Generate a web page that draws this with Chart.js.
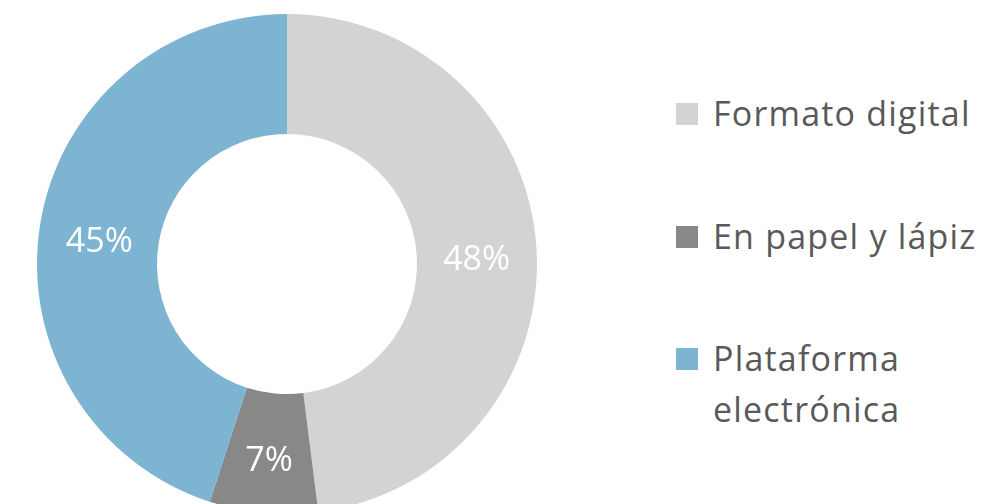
<!DOCTYPE html>
<html>
<head>
<meta charset="utf-8">
<script src="https://cdn.jsdelivr.net/npm/chart.js@4"></script>
<style>
    html, body { margin: 0; padding: 0; background: #fff; overflow: hidden; }
    body { width: 1003px; height: 504px; position: relative; font-family: "Open Sans", sans-serif; }
    #wrap { position: absolute; left: 0; top: 0; width: 574px; height: 528px; }
    #legend { position: absolute; left: 676px; top: 88px; list-style: none; margin: 0; padding: 0; }
    #legend li { position: relative; padding-left: 37px; color: #595959; font-size: 34px; letter-spacing: 1.2px; line-height: 51px; margin-bottom: 71.5px; white-space: nowrap; }
    #legend li span { position: absolute; left: 0; top: 15px; width: 22px; height: 22px; }
</style>
</head>
<body>
<div id="wrap"><canvas id="chart" width="574" height="528"></canvas></div>
<ul id="legend"></ul>
<script>
    // Chart data
    const labels = ['Formato digital', 'En papel y lápiz', 'Plataforma electrónica'];
    const legendLines = [['Formato digital'], ['En papel y lápiz'], ['Plataforma', 'electrónica']];
    const values = [48, 7, 45];
    const colors = ['#d3d3d3', '#888888', '#7cb4d2'];

    // Percentage labels drawn in the middle of each slice
    const sliceLabels = {
        id: 'sliceLabels',
        afterDatasetsDraw(chart) {
            const ctx = chart.ctx;
            const meta = chart.getDatasetMeta(0);
            ctx.save();
            ctx.font = '34px "Open Sans", sans-serif';
            ctx.fillStyle = '#ffffff';
            ctx.textAlign = 'center';
            ctx.textBaseline = 'alphabetic';
            meta.data.forEach((arc, i) => {
                const pos = arc.tooltipPosition();
                ctx.fillText(values[i] + '%', pos.x, pos.y + 18);
            });
            ctx.restore();
        }
    };

    new Chart(document.getElementById('chart'), {
        type: 'doughnut',
        data: {
            labels: labels,
            datasets: [{
                data: values,
                backgroundColor: colors,
                borderWidth: 0
            }]
        },
        options: {
            responsive: false,
            animation: false,
            cutout: '52%',
            layout: { padding: 14 },
            plugins: {
                legend: { display: false },
                tooltip: { enabled: false }
            }
        },
        plugins: [sliceLabels]
    });

    // Build the legend on the right
    const legend = document.getElementById('legend');
    legendLines.forEach((lines, i) => {
        const li = document.createElement('li');
        const box = document.createElement('span');
        box.style.background = colors[i];
        li.appendChild(box);
        li.appendChild(document.createTextNode(lines[0]));
        for (let k = 1; k < lines.length; k++) {
            li.appendChild(document.createElement('br'));
            li.appendChild(document.createTextNode(lines[k]));
        }
        legend.appendChild(li);
    });
</script>
</body>
</html>
